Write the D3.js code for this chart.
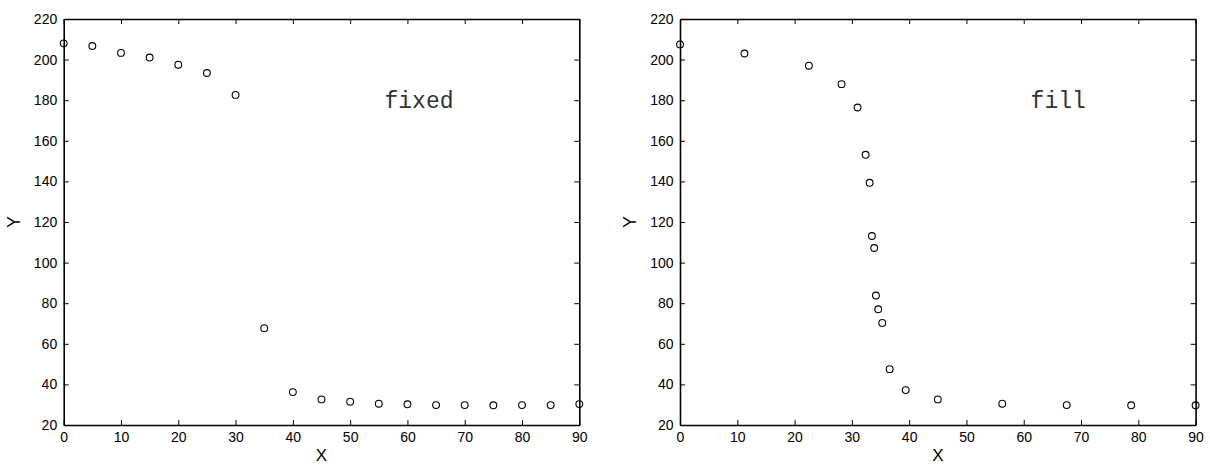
<!DOCTYPE html>
<html>
<head>
<meta charset="utf-8">
<script src="https://cdn.jsdelivr.net/npm/d3@7"></script>
<style>
  body { margin: 0; background: #fff; }
  svg text { fill: #000; }
</style>
</head>
<body>
<div id="chart"></div>
<script>
(function() {
'use strict';

// left panel: fixed step
const fixedX = [0, 5, 10, 15, 20, 25, 30, 35, 40, 45, 50, 55, 60, 65, 70, 75, 80, 85, 90];
const fixedY = [208.0, 206.7, 203.3, 201.0, 197.5, 193.4, 182.6, 67.7, 36.2, 32.6, 31.5, 30.5, 30.2, 29.8, 29.8, 29.7, 29.8, 29.8, 30.3];

// right panel: adaptive fill
const fillX = [0, 11.25, 22.5, 28.2, 31.0, 32.4, 33.1, 33.5, 33.9, 34.2, 34.6, 35.3, 36.6, 39.4, 45.0, 56.25, 67.5, 78.75, 90];
const fillY = [207.5, 203.0, 197.0, 187.9, 176.4, 153.1, 139.3, 113.1, 107.2, 83.8, 77.0, 70.3, 47.5, 37.2, 32.6, 30.5, 29.8, 29.7, 29.7];

const xTicks = [0, 10, 20, 30, 40, 50, 60, 70, 80, 90];
const yTicks = [20, 40, 60, 80, 100, 120, 140, 160, 180, 200, 220];
const panelNames = ['fixed', 'fill'];
const xLabel = 'X';
const yLabel = 'Y';

const W = 1210;
const H = 465;
const TOP = 19;
const BOTTOM = 425;
const PANEL_W = 515.6;
const LEFTS = [63.7, 680];
const NOTE_POS = [[56, 176], [61.2, 176]];

const svg = d3.select('#chart')
  .append('svg')
    .attr('width', W)
    .attr('height', H)
    .style('font-family', '"Liberation Sans", Arial, sans-serif');

drawPanel(LEFTS[0], fixedX, fixedY, panelNames[0], NOTE_POS[0]);
drawPanel(LEFTS[1], fillX, fillY, panelNames[1], NOTE_POS[1]);

function drawPanel(left, xs, ys, name, notePos) {
  const xScale = d3.scaleLinear()
                  .domain([0, 90])
                  .range([left, left + PANEL_W]);

  const yScale = d3.scaleLinear()
                  .domain([20, 220])
                  .range([BOTTOM, TOP]);

  const g = svg.append('g');

  const bottomAxis = d3.axisBottom(xScale).tickValues(xTicks).tickSize(-5).tickSizeOuter(0).tickPadding(7);
  const topAxis = d3.axisTop(xScale).tickValues(xTicks).tickSize(-5).tickSizeOuter(0).tickFormat('');
  const leftAxis = d3.axisLeft(yScale).tickValues(yTicks).tickSize(-5).tickSizeOuter(0).tickPadding(6.5);
  const rightAxis = d3.axisRight(yScale).tickValues(yTicks).tickSize(-5).tickSizeOuter(0).tickFormat('');

  const axes = [
    [bottomAxis, `translate(0, ${BOTTOM})`],
    [topAxis, `translate(0, ${TOP})`],
    [leftAxis, `translate(${left}, 0)`],
    [rightAxis, `translate(${left + PANEL_W}, 0)`]
  ];

  axes.forEach(([axis, tr]) => {
    const a = g.append('g')
      .attr('transform', tr)
      .call(axis);
    a.select('.domain').attr('stroke', '#000').attr('stroke-width', 1.6);
    a.selectAll('.tick line').attr('stroke', '#000').attr('stroke-width', 1);
    a.selectAll('.tick text')
      .style('font-family', '"Liberation Sans", Arial, sans-serif')
      .style('font-size', '14px')
      .attr('fill', '#000');
  });

  // scatter of open circles
  g.selectAll('circle')
    .data(xs.map((x, i) => [x, ys[i]]))
    .enter()
    .append('circle')
      .attr('cx', (d) => xScale(d[0]))
      .attr('cy', (d) => yScale(d[1]))
      .attr('r', 3.4)
      .attr('fill', 'none')
      .attr('stroke', '#000')
      .attr('stroke-width', 1.1);

  g.append('text')
    .attr('x', xScale(notePos[0]))
    .attr('y', yScale(notePos[1]))
    .style('font-family', '"Liberation Mono", "Courier New", monospace')
    .style('font-size', '23px')
    .style('fill', '#333')
    .text(name);

  g.append('text')
    .attr('x', left + PANEL_W / 2)
    .attr('y', 461)
    .attr('text-anchor', 'middle')
    .style('font-size', '17px')
    .text(xLabel);

  g.append('text')
    .attr('transform', `translate(${left - 44}, ${(TOP + BOTTOM) / 2}) rotate(-90)`)
    .attr('text-anchor', 'middle')
    .style('font-size', '18px')
    .text(yLabel);
}

})();
</script>
</body>
</html>
